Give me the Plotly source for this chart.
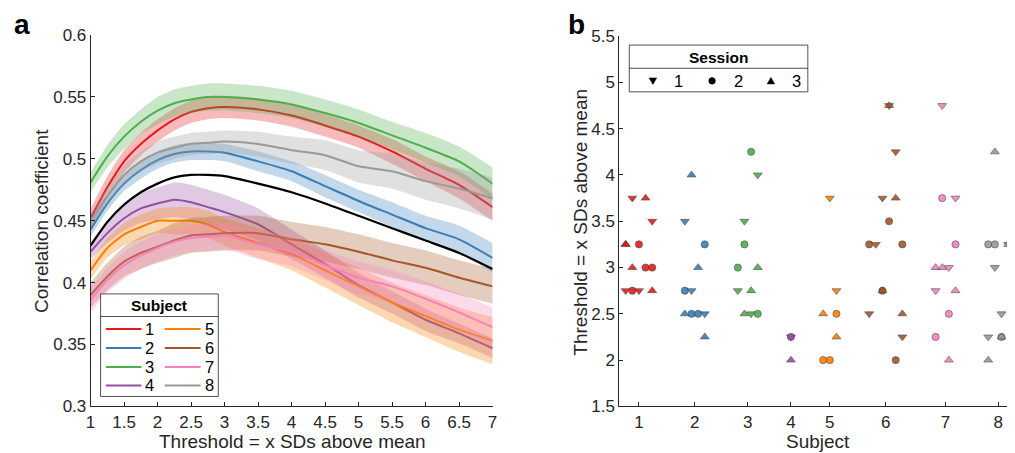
import plotly.graph_objects as go

W, H = 1015, 453

# ---------------- Panel a data ----------------
thr = [1, 1.25, 1.5, 1.75, 2, 2.25, 2.5, 2.75, 3, 3.5, 4, 4.5, 5, 5.5, 6, 6.5, 7]
subjects = ["1", "2", "3", "4", "5", "6", "7", "8"]
colors = ["#E41A1C", "#377EB8", "#4DAF4A", "#984EA3", "#FF7F00", "#A65628", "#F781BF", "#999999"]

m_s1 = [0.452, 0.477, 0.498, 0.512, 0.523, 0.532, 0.538, 0.541, 0.542, 0.540, 0.535, 0.527, 0.518, 0.506, 0.492, 0.479, 0.461]
m_s2 = [0.443, 0.464, 0.480, 0.491, 0.499, 0.504, 0.506, 0.506, 0.505, 0.498, 0.490, 0.478, 0.466, 0.455, 0.444, 0.435, 0.420]
m_s3 = [0.481, 0.502, 0.518, 0.530, 0.539, 0.545, 0.548, 0.550, 0.550, 0.548, 0.544, 0.537, 0.529, 0.519, 0.509, 0.498, 0.480]
m_s4 = [0.425, 0.440, 0.452, 0.460, 0.464, 0.467, 0.465, 0.461, 0.457, 0.447, 0.431, 0.415, 0.398, 0.384, 0.370, 0.359, 0.347]
m_s5 = [0.410, 0.428, 0.439, 0.445, 0.450, 0.450, 0.450, 0.447, 0.441, 0.432, 0.423, 0.410, 0.397, 0.384, 0.373, 0.362, 0.353]
m_s6 = [0.390, 0.405, 0.417, 0.424, 0.429, 0.434, 0.438, 0.439, 0.440, 0.440, 0.435, 0.431, 0.425, 0.418, 0.412, 0.404, 0.397]
m_s7 = [0.386, 0.402, 0.414, 0.422, 0.428, 0.433, 0.436, 0.437, 0.438, 0.431, 0.425, 0.414, 0.404, 0.397, 0.387, 0.376, 0.364]
m_s8 = [0.450, 0.470, 0.487, 0.498, 0.505, 0.509, 0.512, 0.513, 0.514, 0.512, 0.507, 0.503, 0.494, 0.490, 0.482, 0.476, 0.468]
m_all = [0.430, 0.449, 0.463, 0.473, 0.480, 0.485, 0.487, 0.487, 0.486, 0.480, 0.473, 0.464, 0.454, 0.444, 0.434, 0.424, 0.411]

hw_s1 = [0.008, 0.009, 0.009, 0.009, 0.009, 0.009, 0.009, 0.009, 0.009, 0.009, 0.009, 0.009, 0.009, 0.010, 0.010, 0.011, 0.011]
hw_s2 = [0.006, 0.006, 0.006, 0.007, 0.007, 0.007, 0.007, 0.007, 0.007, 0.008, 0.008, 0.009, 0.009, 0.010, 0.010, 0.011, 0.012]
hw_s3 = [0.008, 0.009, 0.010, 0.010, 0.011, 0.011, 0.011, 0.011, 0.011, 0.011, 0.011, 0.011, 0.011, 0.011, 0.012, 0.012, 0.013]
hw_s4 = [0.006, 0.008, 0.010, 0.012, 0.013, 0.014, 0.014, 0.014, 0.014, 0.013, 0.012, 0.011, 0.010, 0.009, 0.009, 0.008, 0.008]
hw_s5 = [0.007, 0.008, 0.009, 0.010, 0.010, 0.011, 0.011, 0.011, 0.011, 0.012, 0.013, 0.014, 0.015, 0.016, 0.017, 0.018, 0.019]
hw_s6 = [0.010, 0.011, 0.012, 0.013, 0.013, 0.014, 0.014, 0.014, 0.014, 0.014, 0.014, 0.014, 0.014, 0.014, 0.014, 0.014, 0.014]
hw_s7 = [0.010, 0.010, 0.011, 0.011, 0.011, 0.011, 0.011, 0.011, 0.011, 0.012, 0.012, 0.012, 0.013, 0.013, 0.014, 0.015, 0.016]
hw_s8 = [0.006, 0.007, 0.008, 0.008, 0.009, 0.009, 0.009, 0.009, 0.009, 0.010, 0.011, 0.012, 0.013, 0.014, 0.015, 0.016, 0.017]

means = [m_s1, m_s2, m_s3, m_s4, m_s5, m_s6, m_s7, m_s8]
halfw = [hw_s1, hw_s2, hw_s3, hw_s4, hw_s5, hw_s6, hw_s7, hw_s8]

a_xticks = [1, 1.5, 2, 2.5, 3, 3.5, 4, 4.5, 5, 5.5, 6, 6.5, 7]
a_xticktext = ["1", "1.5", "2", "2.5", "3", "3.5", "4", "4.5", "5", "5.5", "6", "6.5", "7"]
a_yticks = [0.3, 0.35, 0.4, 0.45, 0.5, 0.55, 0.6]
a_yticktext = ["0.3", "0.35", "0.4", "0.45", "0.5", "0.55", "0.6"]

# ---------------- Panel b data ----------------
subj_center = [2.96, 11.38, 19.36, 25.86, 31.72, 40.15, 49.16, 57.09]
b_vals = [
    [3.75, 3.75, 3.5, 3.25, 3.25, 3.25, 3.0, 3.0, 3.0, 2.75, 2.75, 2.75, 2.75],
    [4.0, 3.5, 3.25, 3.0, 2.75, 2.75, 2.5, 2.5, 2.5, 2.5, 2.25],
    [4.25, 4.0, 3.5, 3.25, 3.0, 3.0, 2.75, 2.75, 2.5, 2.5, 2.5],
    [2.25, 2.25, 2.0],
    [3.75, 2.75, 2.5, 2.5, 2.25, 2.0, 2.0],
    [4.75, 4.75, 4.25, 3.75, 3.75, 3.5, 3.25, 3.25, 3.25, 2.75, 2.75, 2.5, 2.5, 2.25, 2.0],
    [4.75, 3.75, 3.75, 3.25, 3.0, 3.0, 3.0, 2.75, 2.75, 2.5, 2.25, 2.0],
    [4.25, 3.25, 3.25, 3.25, 3.25, 3.0, 2.5, 2.25, 2.25, 2.25, 2.0],
]
b_sess = [
    [1, 3, 1, 3, 3, 2, 3, 2, 2, 1, 2, 1, 3],
    [3, 1, 2, 3, 2, 1, 3, 2, 2, 1, 3],
    [2, 1, 1, 2, 2, 3, 1, 3, 3, 1, 2],
    [1, 2, 3],
    [1, 1, 3, 2, 3, 2, 2],
    [1, 3, 1, 1, 3, 2, 2, 1, 2, 2, 3, 1, 3, 1, 2],
    [1, 2, 1, 2, 3, 3, 1, 1, 3, 2, 2, 3],
    [3, 2, 2, 1, 3, 1, 1, 1, 2, 3, 3],
]
b_jitter = [
    [-1, 1, 2, -2, -2, 0, -1, 1, 2, -2, -1, 0, 2],
    [-0.5, -1.5, 1.5, 0.5, -1.5, -0.5, -1.5, -0.5, 0.5, 1.5, 1.5],
    [0.5, 1.5, -0.5, -0.5, -1.5, 1.5, -1.5, 0.5, -0.5, 0.5, 1.5],
    [0, 0, 0],
    [0, 1, -1, 1, 1, -1, 0],
    [0.5, 0.5, 1.5, -0.5, 1.5, 0.5, -2.5, -1.5, 2.5, -0.5, -0.5, -2.5, 2.5, 2.5, 1.5],
    [-0.5, -0.5, 1.5, 1.5, -1.5, -0.5, 0.5, -1.5, 1.5, 0.5, -1.5, 0.5],
    [-0.5, -1.5, -0.5, 1.5, 1.5, -0.5, 0.5, -1.5, 0.5, 0.5, -1.5],
]
sessions = ["1", "2", "3"]
sess_symbol = {1: "triangle-down", 2: "circle", 3: "triangle-up"}
sess_size = {1: 7.8, 2: 7.2, 3: 7.8}

b_yticks = [1.5, 2, 2.5, 3, 3.5, 4, 4.5, 5, 5.5]
b_yticktext = ["1.5", "2", "2.5", "3", "3.5", "4", "4.5", "5", "5.5"]

FONT = "Liberation Sans, Arial, Helvetica, sans-serif"
AX = "#262626"

# the page is shown with a small offset / scale; map target picture pixels to paper coords
OX, SX, OY, SY = 11.2, 0.9926, 15.8, 0.9625


def rgba(hexc, a):
    h = hexc.lstrip("#")
    return "rgba(%d,%d,%d,%.2f)" % (int(h[0:2], 16), int(h[2:4], 16), int(h[4:6], 16), a)


def px(x):
    return ((x - OX) / SX) / W


def py(y):
    return 1 - ((y - OY) / SY) / H


fig = go.Figure()

# Panel a: bands and lines
for i, name in enumerate(subjects):
    lo = [m - h for m, h in zip(means[i], halfw[i])]
    up = [m + h for m, h in zip(means[i], halfw[i])]
    fig.add_trace(go.Scatter(x=thr, y=lo, mode="lines", line=dict(width=0, shape="spline", smoothing=0.6),
                             showlegend=False, hoverinfo="skip", xaxis="x", yaxis="y"))
    fig.add_trace(go.Scatter(x=thr, y=up, mode="lines", fill="tonexty", fillcolor=rgba(colors[i], 0.3),
                             line=dict(width=0, shape="spline", smoothing=0.6),
                             showlegend=False, hoverinfo="skip", xaxis="x", yaxis="y"))
    fig.add_trace(go.Scatter(x=thr, y=means[i], mode="lines", name=name,
                             line=dict(color=colors[i], width=2, shape="spline", smoothing=0.6),
                             showlegend=False, xaxis="x", yaxis="y"))
fig.add_trace(go.Scatter(x=thr, y=m_all, mode="lines", name="mean",
                         line=dict(color="black", width=2.2, shape="spline", smoothing=0.6),
                         showlegend=False, xaxis="x", yaxis="y"))

# Panel b: markers
for i, name in enumerate(subjects):
    xs = [subj_center[i] + k for k in b_jitter[i]]
    fig.add_trace(go.Scatter(
        x=xs, y=b_vals[i], mode="markers", name="Subject " + name, showlegend=False,
        marker=dict(color=colors[i], symbol=[sess_symbol[s] for s in b_sess[i]],
                    size=[sess_size[s] for s in b_sess[i]], opacity=0.9,
                    line=dict(color="#3a3a3a", width=0.6)),
        xaxis="x2", yaxis="y2"))

axis_common = dict(showline=True, linecolor=AX, linewidth=0.8, ticks="inside", ticklen=4, tickwidth=0.8,
                   tickcolor=AX, showgrid=False, zeroline=False,
                   tickfont=dict(family=FONT, size=17, color=AX))

fig.update_layout(
    width=W, height=H, margin=dict(l=0, r=0, t=0, b=0),
    paper_bgcolor="white", plot_bgcolor="white",
    xaxis=dict(domain=[px(89), px(492)], range=[1, 7], tickvals=a_xticks, ticktext=a_xticktext,
               anchor="y", **axis_common),
    yaxis=dict(domain=[py(407), py(34)], range=[0.3, 0.6], tickvals=a_yticks, ticktext=a_yticktext,
               anchor="x", **axis_common),
    xaxis2=dict(domain=[px(619), px(1008)], range=[0, 58.47], tickvals=subj_center, ticktext=subjects,
                anchor="y2", **axis_common),
    yaxis2=dict(domain=[py(407), py(35)], range=[1.5, 5.5], tickvals=b_yticks, ticktext=b_yticktext,
                anchor="x2", **axis_common),
)

ann = []
tfont = dict(family=FONT, size=19, color=AX)
ann.append(dict(text="Threshold = x SDs above mean", x=px(291), y=py(442), xref="paper", yref="paper",
                showarrow=False, xanchor="center", yanchor="middle", font=tfont))
ann.append(dict(text="Correlation coefficient", x=px(40), y=py(221), xref="paper", yref="paper",
                showarrow=False, xanchor="center", yanchor="middle", textangle=-90, font=tfont))
ann.append(dict(text="Subject", x=px(818), y=py(442), xref="paper", yref="paper",
                showarrow=False, xanchor="center", yanchor="middle", font=tfont))
ann.append(dict(text="Threshold = x SDs above mean", x=px(580), y=py(222), xref="paper", yref="paper",
                showarrow=False, xanchor="center", yanchor="middle", textangle=-90, font=tfont))
ann.append(dict(text="<b>a</b>", x=px(20.5), y=py(23), xref="paper", yref="paper",
                showarrow=False, xanchor="center", yanchor="middle", font=dict(family=FONT, size=28, color="black")))
ann.append(dict(text="<b>b</b>", x=px(576), y=py(23), xref="paper", yref="paper",
                showarrow=False, xanchor="center", yanchor="middle", font=dict(family=FONT, size=28, color="black")))

shapes = []
# Subject legend (panel a)
shapes.append(dict(type="rect", xref="paper", yref="paper", x0=px(99), x1=px(217), y0=py(397), y1=py(294),
                   line=dict(color=AX, width=0.8), fillcolor="white", layer="above"))
shapes.append(dict(type="line", xref="paper", yref="paper", x0=px(99), x1=px(217), y0=py(316.7), y1=py(316.7),
                   line=dict(color=AX, width=0.8)))
ann.append(dict(text="<b>Subject</b>", x=px(158), y=py(306), xref="paper", yref="paper", showarrow=False,
                xanchor="center", yanchor="middle", font=dict(family=FONT, size=15.5, color="black")))
rows_y = [329.3, 348.3, 367.3, 386]
for i, name in enumerate(subjects):
    col = i // 4
    row = i % 4
    lx0, lx1, tx = (104.3, 140, 148.3) if col == 0 else (163.3, 199.3, 207.7)
    shapes.append(dict(type="line", xref="paper", yref="paper", x0=px(lx0), x1=px(lx1),
                       y0=py(rows_y[row]), y1=py(rows_y[row]), line=dict(color=colors[i], width=2)))
    ann.append(dict(text=name, x=px(tx), y=py(rows_y[row]), xref="paper", yref="paper", showarrow=False,
                    xanchor="center", yanchor="middle", font=dict(family=FONT, size=16.5, color="black")))

# Session legend (panel b)
shapes.append(dict(type="rect", xref="paper", yref="paper", x0=px(629), x1=px(808), y0=py(91), y1=py(44),
                   line=dict(color=AX, width=0.8), fillcolor="white", layer="above"))
shapes.append(dict(type="line", xref="paper", yref="paper", x0=px(629), x1=px(808), y0=py(67.3), y1=py(67.3),
                   line=dict(color=AX, width=0.8)))
ann.append(dict(text="<b>Session</b>", x=px(718), y=py(56.5), xref="paper", yref="paper", showarrow=False,
                xanchor="center", yanchor="middle", font=dict(family=FONT, size=15.5, color="black")))
ey = 80
sess_key_x = [652.7, 712, 771]
sess_text_x = [678, 738, 797]
for j, s in enumerate(sessions):
    cx = sess_key_x[j]
    if j == 0:
        path = "M %f,%f L %f,%f L %f,%f Z" % (px(cx - 3.8), py(ey - 3), px(cx + 3.8), py(ey - 3), px(cx), py(ey + 3.5))
        shapes.append(dict(type="path", xref="paper", yref="paper", path=path, fillcolor="black",
                           line=dict(color="black", width=0.5)))
    elif j == 1:
        shapes.append(dict(type="circle", xref="paper", yref="paper", x0=px(cx - 3.3), x1=px(cx + 3.3),
                           y0=py(ey + 3.3), y1=py(ey - 3.3), fillcolor="black", line=dict(color="black", width=0.5)))
    else:
        path = "M %f,%f L %f,%f L %f,%f Z" % (px(cx - 3.8), py(ey + 3), px(cx + 3.8), py(ey + 3), px(cx), py(ey - 3.5))
        shapes.append(dict(type="path", xref="paper", yref="paper", path=path, fillcolor="black",
                           line=dict(color="black", width=0.5)))
    ann.append(dict(text=s, x=px(sess_text_x[j]), y=py(ey), xref="paper", yref="paper", showarrow=False,
                    xanchor="center", yanchor="middle", font=dict(family=FONT, size=16.5, color="black")))

fig.update_layout(annotations=ann, shapes=shapes)
fig.write_html("out.html")
